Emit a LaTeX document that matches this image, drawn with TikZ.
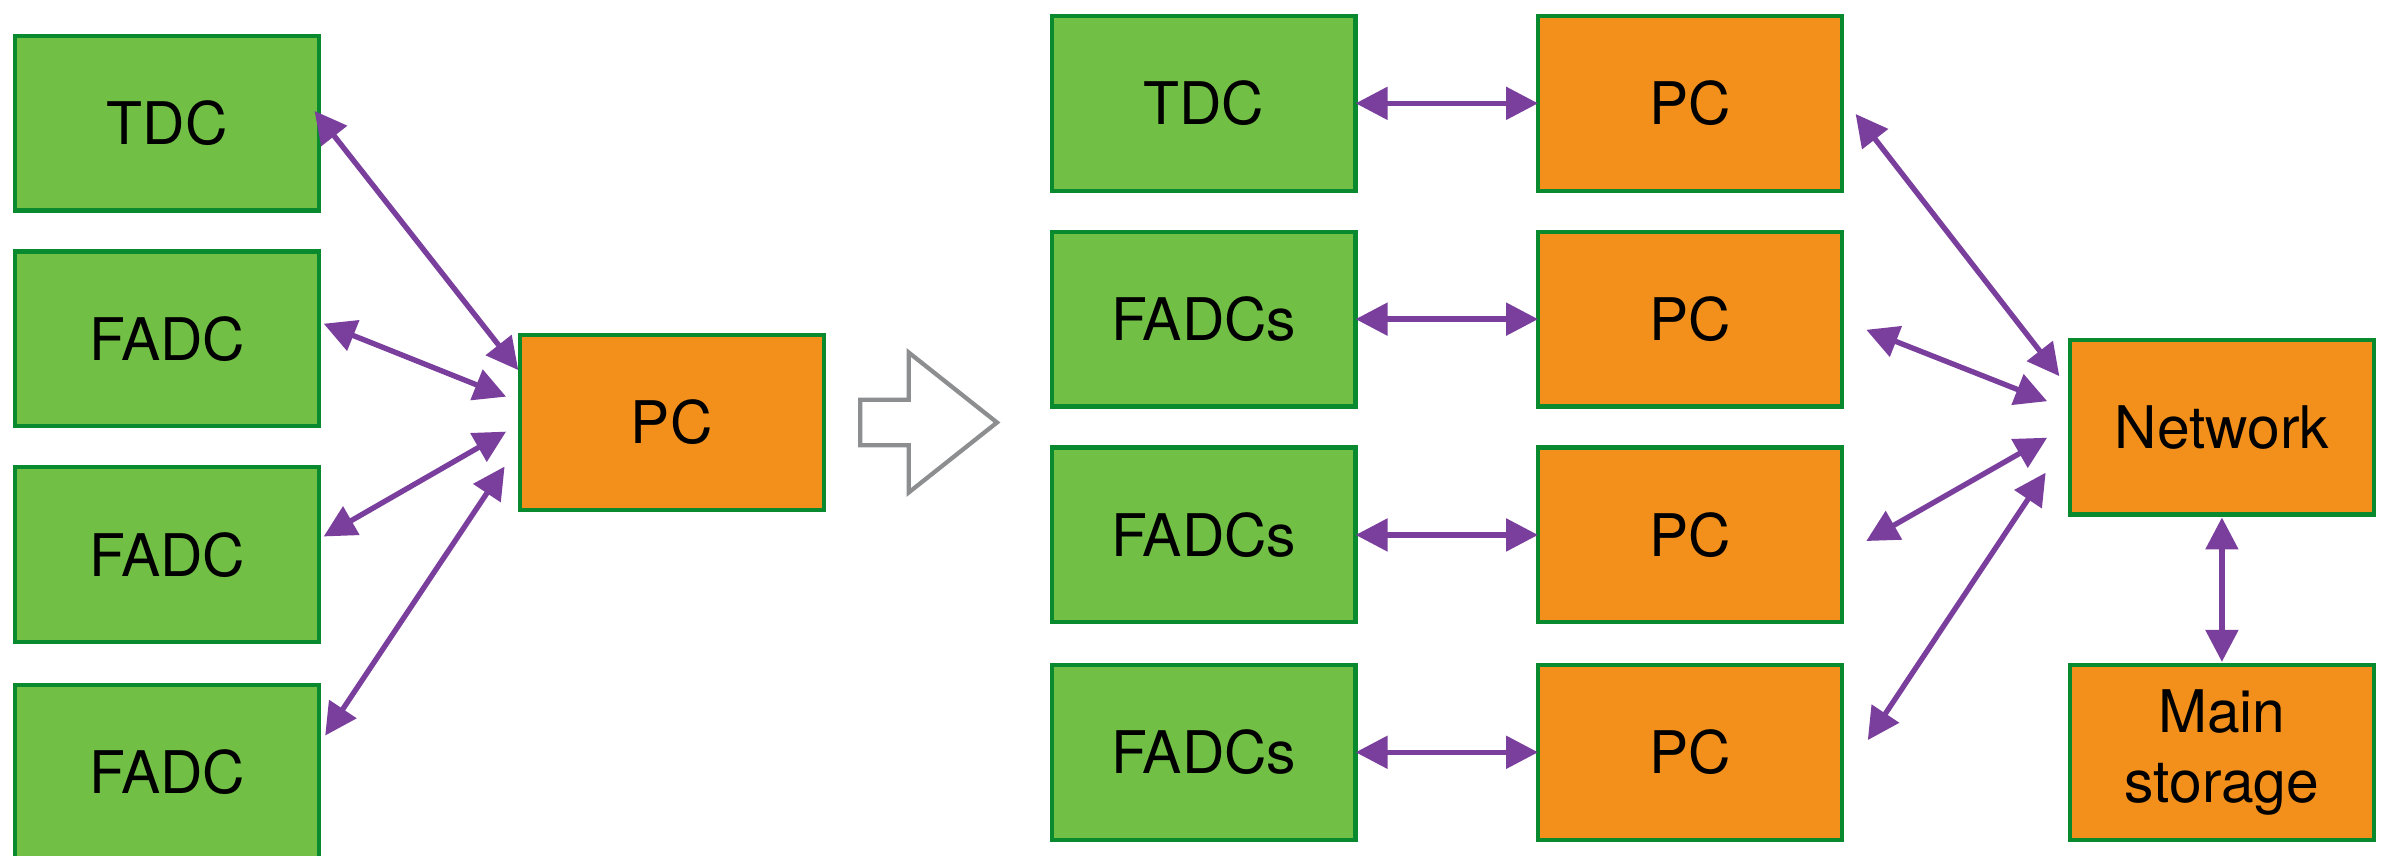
\documentclass[tikz,border=0pt]{standalone}
\usepackage{fontspec}
\setmainfont{TeX Gyre Heros}
\usetikzlibrary{calc,arrows.meta}
\definecolor{boxgreen}{HTML}{71BF44}
\definecolor{edgegreen}{HTML}{0A8A2E}
\definecolor{boxorange}{HTML}{F2901B}
\definecolor{linkpurple}{HTML}{7A3F9D}
\definecolor{hollowgray}{HTML}{8C8E90}
\tikzset{
	card/.style={draw=edgegreen, line width=1.6pt, minimum width=4cm, minimum height=2.3cm, inner sep=0pt, outer sep=0pt, font=\fontsize{22}{26}\selectfont, align=center},
	det/.style={card, fill=boxgreen},
	cpu/.style={card, fill=boxorange},
	link/.style={linkpurple, line width=2pt, {Triangle[length=0.42cm,width=0.42cm]}-{Triangle[length=0.42cm,width=0.42cm]}}
}
\begin{document}
\begin{tikzpicture}[x=0.02cm, y=-0.02cm]
	\useasboundingbox (0,0) rectangle (1568,563);

	\node[det] (TDC) at (110,81) {TDC};
	\node[det] (FA) at (110,223) {FADC};
	\node[det] (FB) at (110,365) {FADC};
	\node[det] (FC) at (110,508) {FADC};
	\node[cpu] (PC) at (442,278) {PC};

	\draw[link] ($(TDC.east)+(-3,-8)$) -- ($(PC.north west)+(-1,23)$);
	\draw[link] ($(FA.east)+(3,-10)$) -- ($(PC.west)+(-9,-17)$);
	\draw[link] ($(FB.east)+(3,-12)$) -- ($(PC.west)+(-9,6)$);
	\draw[link] ($(FC.east)+(4,-24)$) -- ($(PC.west)+(-10,29)$);

	\draw[hollowgray, line width=1.6pt] (566,263)--(598,263)--(598,232)--(656,278)--(598,324)--(598,293)--(566,293)--cycle;

	\node[det] (RT) at (792,68) {TDC};
	\node[det] (RA) at (792,210) {FADCs};
	\node[det] (RB) at (792,352) {FADCs};
	\node[det] (RC) at (792,495) {FADCs};

	\node[cpu] (PA) at (1112,68) {PC};
	\node[cpu] (PB) at (1112,210) {PC};
	\node[cpu] (PD) at (1112,352) {PC};
	\node[cpu] (PE) at (1112,495) {PC};

	\node[cpu] (NET) at (1462,281) {Network};
	\node[cpu] (MS) at (1462,495) {Main\\storage};

	\draw[link] (RT.east) -- (PA.west);
	\draw[link] (RA.east) -- (PB.west);
	\draw[link] (RB.east) -- (PD.west);
	\draw[link] (RC.east) -- (PE.west);

	\draw[link] ($(PA.east)+(9,7)$) -- ($(NET.north west)+(-7,24)$);
	\draw[link] ($(PB.east)+(16,7)$) -- ($(NET.west)+(-15,-17)$);
	\draw[link] ($(PD.east)+(16,4)$) -- ($(NET.west)+(-15,7)$);
	\draw[link] ($(PE.east)+(17,-8)$) -- ($(NET.west)+(-16,30)$);
	\draw[link] ($(NET.south)+(0,2)$) -- ($(MS.north)+(0,-2)$);
\end{tikzpicture}
\end{document}
